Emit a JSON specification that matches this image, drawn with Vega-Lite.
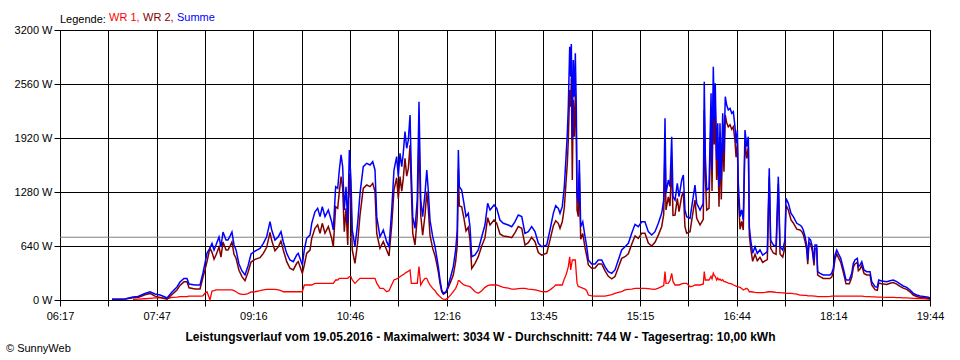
{
  "$schema": "https://vega.github.io/schema/vega-lite/v6.json",
  "width": 870,
  "height": 270,
  "autosize": "none",
  "padding": {"left": 60, "top": 30, "right": 30, "bottom": 60},
  "background": "white",
  "title": {"text": "© SunnyWeb", "orient": "bottom", "anchor": "start", "frame": "group", "offset": 1, "dx": -54, "baseline": "top", "fontSize": 11, "fontWeight": "normal", "font": "Liberation Sans", "color": "black"},
  "data": {"values": [
    {"t":425.2,"wr1":null,"wr2":8,"summe":8},
    {"t":437.3,"wr1":null,"wr2":12,"summe":12},
    {"t":444.7,"wr1":8,"wr2":28,"summe":36},
    {"t":449.4,"wr1":10,"wr2":31,"summe":41},
    {"t":455.8,"wr1":15,"wr2":62,"summe":77},
    {"t":460.5,"wr1":20,"wr2":78,"summe":98},
    {"t":465.1,"wr1":25,"wr2":46,"summe":71},
    {"t":469.8,"wr1":28,"wr2":31,"summe":59},
    {"t":474.4,"wr1":20,"wr2":16,"summe":36},
    {"t":476.3,"wr1":15,"wr2":9,"summe":24},
    {"t":480.9,"wr1":30,"wr2":65,"summe":95},
    {"t":485.5,"wr1":35,"wr2":119,"summe":154},
    {"t":488.3,"wr1":40,"wr2":173,"summe":213},
    {"t":492.0,"wr1":40,"wr2":215,"summe":255},
    {"t":494.8,"wr1":40,"wr2":215,"summe":255},
    {"t":496.7,"wr1":45,"wr2":145,"summe":190},
    {"t":502.2,"wr1":47,"wr2":131,"summe":178},
    {"t":506.9,"wr1":47,"wr2":131,"summe":178},
    {"t":509.6,"wr1":50,"wr2":270,"summe":320},
    {"t":511.5,"wr1":80,"wr2":358,"summe":438},
    {"t":513.4,"wr1":98,"wr2":459,"summe":557},
    {"t":516.1,"wr1":0,"wr2":616,"summe":616},
    {"t":518.0,"wr1":105,"wr2":565,"summe":670},
    {"t":519.9,"wr1":110,"wr2":483,"summe":593},
    {"t":521.7,"wr1":119,"wr2":533,"summe":652},
    {"t":524.5,"wr1":119,"wr2":628,"summe":747},
    {"t":526.3,"wr1":119,"wr2":509,"summe":628},
    {"t":528.2,"wr1":119,"wr2":687,"summe":806},
    {"t":531.0,"wr1":119,"wr2":592,"summe":711},
    {"t":532.8,"wr1":119,"wr2":592,"summe":711},
    {"t":534.7,"wr1":119,"wr2":639,"summe":758},
    {"t":536.5,"wr1":119,"wr2":687,"summe":806},
    {"t":538.4,"wr1":110,"wr2":542,"summe":652},
    {"t":540.3,"wr1":98,"wr2":495,"summe":593},
    {"t":543.0,"wr1":75,"wr2":352,"summe":427},
    {"t":545.8,"wr1":67,"wr2":277,"summe":344},
    {"t":548.6,"wr1":67,"wr2":229,"summe":296},
    {"t":551.4,"wr1":75,"wr2":328,"summe":403},
    {"t":554.2,"wr1":95,"wr2":450,"summe":545},
    {"t":557.9,"wr1":98,"wr2":482,"summe":580},
    {"t":562.5,"wr1":110,"wr2":502,"summe":612},
    {"t":565.6,"wr1":120,"wr2":552,"summe":672},
    {"t":568.7,"wr1":126,"wr2":624,"summe":750},
    {"t":571.8,"wr1":126,"wr2":802,"summe":928},
    {"t":573.4,"wr1":126,"wr2":704,"summe":830},
    {"t":576.4,"wr1":126,"wr2":585,"summe":711},
    {"t":579.5,"wr1":120,"wr2":630,"summe":750},
    {"t":582.0,"wr1":110,"wr2":700,"summe":810},
    {"t":584.1,"wr1":98,"wr2":593,"summe":691},
    {"t":587.3,"wr1":98,"wr2":455,"summe":553},
    {"t":590.3,"wr1":98,"wr2":376,"summe":474},
    {"t":593.4,"wr1":98,"wr2":356,"summe":454},
    {"t":596.6,"wr1":98,"wr2":435,"summe":533},
    {"t":598.0,"wr1":98,"wr2":455,"summe":553},
    {"t":599.6,"wr1":98,"wr2":396,"summe":494},
    {"t":601.8,"wr1":98,"wr2":317,"summe":415},
    {"t":603.6,"wr1":178,"wr2":415,"summe":593},
    {"t":605.8,"wr1":178,"wr2":553,"summe":731},
    {"t":608.9,"wr1":178,"wr2":592,"summe":770},
    {"t":610.5,"wr1":178,"wr2":731,"summe":909},
    {"t":613.5,"wr1":197,"wr2":849,"summe":1046},
    {"t":616.0,"wr1":197,"wr2":890,"summe":1087},
    {"t":618.2,"wr1":197,"wr2":791,"summe":988},
    {"t":620.3,"wr1":197,"wr2":909,"summe":1106},
    {"t":622.8,"wr1":197,"wr2":791,"summe":988},
    {"t":625.9,"wr1":197,"wr2":870,"summe":1067},
    {"t":629.0,"wr1":197,"wr2":731,"summe":928},
    {"t":630.5,"wr1":197,"wr2":633,"summe":830},
    {"t":632.7,"wr1":237,"wr2":1106,"summe":1343},
    {"t":634.6,"wr1":237,"wr2":1087,"summe":1324},
    {"t":636.1,"wr1":257,"wr2":1284,"summe":1541},
    {"t":637.7,"wr1":257,"wr2":1462,"summe":1719},
    {"t":639.2,"wr1":257,"wr2":1323,"summe":1580},
    {"t":640.7,"wr1":257,"wr2":810,"summe":1067},
    {"t":642.3,"wr1":257,"wr2":1086,"summe":1343},
    {"t":643.9,"wr1":257,"wr2":652,"summe":909},
    {"t":645.4,"wr1":277,"wr2":1501,"summe":1778},
    {"t":646.9,"wr1":277,"wr2":1145,"summe":1422},
    {"t":648.1,"wr1":237,"wr2":593,"summe":830},
    {"t":650.6,"wr1":197,"wr2":435,"summe":632},
    {"t":653.1,"wr1":230,"wr2":679,"summe":909},
    {"t":655.3,"wr1":257,"wr2":1007,"summe":1264},
    {"t":658.3,"wr1":257,"wr2":1323,"summe":1580},
    {"t":661.5,"wr1":257,"wr2":1363,"summe":1620},
    {"t":664.6,"wr1":257,"wr2":1343,"summe":1600},
    {"t":667.1,"wr1":257,"wr2":1382,"summe":1639},
    {"t":669.2,"wr1":257,"wr2":1284,"summe":1541},
    {"t":670.8,"wr1":200,"wr2":788,"summe":988},
    {"t":673.8,"wr1":138,"wr2":612,"summe":750},
    {"t":676.9,"wr1":138,"wr2":692,"summe":830},
    {"t":680.0,"wr1":98,"wr2":593,"summe":691},
    {"t":682.2,"wr1":110,"wr2":522,"summe":632},
    {"t":684.7,"wr1":180,"wr2":887,"summe":1067},
    {"t":686.8,"wr1":237,"wr2":1304,"summe":1541},
    {"t":689.3,"wr1":250,"wr2":1449,"summe":1699},
    {"t":690.8,"wr1":260,"wr2":1202,"summe":1462},
    {"t":692.4,"wr1":276,"wr2":1462,"summe":1738},
    {"t":694.0,"wr1":290,"wr2":1290,"summe":1580},
    {"t":695.4,"wr1":300,"wr2":1438,"summe":1738},
    {"t":697.0,"wr1":316,"wr2":1679,"summe":1995},
    {"t":698.6,"wr1":330,"wr2":1468,"summe":1798},
    {"t":700.1,"wr1":340,"wr2":1556,"summe":1896},
    {"t":701.7,"wr1":356,"wr2":1837,"summe":2193},
    {"t":702.9,"wr1":198,"wr2":1303,"summe":1501},
    {"t":704.2,"wr1":198,"wr2":790,"summe":988},
    {"t":706.3,"wr1":198,"wr2":652,"summe":850},
    {"t":708.4,"wr1":198,"wr2":987,"summe":1185},
    {"t":710.0,"wr1":395,"wr2":1955,"summe":2350},
    {"t":711.6,"wr1":178,"wr2":1007,"summe":1185},
    {"t":713.4,"wr1":220,"wr2":768,"summe":988},
    {"t":715.6,"wr1":257,"wr2":1007,"summe":1264},
    {"t":717.2,"wr1":257,"wr2":1284,"summe":1541},
    {"t":718.6,"wr1":217,"wr2":1087,"summe":1304},
    {"t":720.2,"wr1":178,"wr2":770,"summe":948},
    {"t":722.7,"wr1":138,"wr2":612,"summe":750},
    {"t":724.9,"wr1":110,"wr2":522,"summe":632},
    {"t":726.4,"wr1":79,"wr2":434,"summe":513},
    {"t":727.9,"wr1":60,"wr2":335,"summe":395},
    {"t":729.5,"wr1":40,"wr2":197,"summe":237},
    {"t":731.1,"wr1":20,"wr2":99,"summe":119},
    {"t":732.6,"wr1":10,"wr2":69,"summe":79},
    {"t":735.1,"wr1":8,"wr2":90,"summe":98},
    {"t":737.2,"wr1":30,"wr2":148,"summe":178},
    {"t":739.4,"wr1":60,"wr2":216,"summe":276},
    {"t":741.8,"wr1":100,"wr2":295,"summe":395},
    {"t":744.0,"wr1":138,"wr2":455,"summe":593},
    {"t":745.5,"wr1":180,"wr2":650,"summe":830},
    {"t":746.5,"wr1":229,"wr2":1549,"summe":1778},
    {"t":747.4,"wr1":229,"wr2":1114,"summe":1343},
    {"t":749.6,"wr1":200,"wr2":1104,"summe":1304},
    {"t":751.7,"wr1":178,"wr2":968,"summe":1146},
    {"t":753.6,"wr1":170,"wr2":818,"summe":988},
    {"t":755.7,"wr1":165,"wr2":862,"summe":1027},
    {"t":757.3,"wr1":158,"wr2":711,"summe":869},
    {"t":758.9,"wr1":140,"wr2":373,"summe":513},
    {"t":762.0,"wr1":98,"wr2":435,"summe":533},
    {"t":765.0,"wr1":79,"wr2":514,"summe":593},
    {"t":768.2,"wr1":110,"wr2":640,"summe":750},
    {"t":771.2,"wr1":150,"wr2":739,"summe":889},
    {"t":773.7,"wr1":170,"wr2":976,"summe":1146},
    {"t":775.9,"wr1":178,"wr2":889,"summe":1067},
    {"t":779.6,"wr1":178,"wr2":948,"summe":1126},
    {"t":782.1,"wr1":178,"wr2":909,"summe":1087},
    {"t":785.1,"wr1":165,"wr2":783,"summe":948},
    {"t":788.2,"wr1":150,"wr2":759,"summe":909},
    {"t":792.8,"wr1":140,"wr2":749,"summe":889},
    {"t":796.0,"wr1":130,"wr2":739,"summe":869},
    {"t":799.1,"wr1":130,"wr2":798,"summe":928},
    {"t":802.1,"wr1":135,"wr2":872,"summe":1007},
    {"t":805.3,"wr1":138,"wr2":850,"summe":988},
    {"t":808.3,"wr1":138,"wr2":652,"summe":790},
    {"t":811.4,"wr1":130,"wr2":680,"summe":810},
    {"t":814.5,"wr1":125,"wr2":744,"summe":869},
    {"t":817.6,"wr1":119,"wr2":691,"summe":810},
    {"t":820.7,"wr1":110,"wr2":562,"summe":672},
    {"t":823.8,"wr1":100,"wr2":532,"summe":632},
    {"t":828.5,"wr1":98,"wr2":554,"summe":652},
    {"t":831.5,"wr1":120,"wr2":710,"summe":830},
    {"t":834.6,"wr1":150,"wr2":877,"summe":1027},
    {"t":836.8,"wr1":178,"wr2":940,"summe":1118},
    {"t":839.2,"wr1":178,"wr2":909,"summe":1087},
    {"t":840.8,"wr1":178,"wr2":849,"summe":1027},
    {"t":842.9,"wr1":178,"wr2":928,"summe":1106},
    {"t":844.8,"wr1":250,"wr2":1093,"summe":1343},
    {"t":846.4,"wr1":300,"wr2":1399,"summe":1699},
    {"t":847.6,"wr1":350,"wr2":1625,"summe":1975},
    {"t":848.5,"wr1":395,"wr2":1896,"summe":2291},
    {"t":849.8,"wr1":513,"wr2":2489,"summe":3002},
    {"t":850.7,"wr1":356,"wr2":2290,"summe":2646},
    {"t":851.3,"wr1":400,"wr2":2634,"summe":3034},
    {"t":852.2,"wr1":474,"wr2":1422,"summe":1896},
    {"t":853.1,"wr1":474,"wr2":2370,"summe":2844},
    {"t":854.1,"wr1":474,"wr2":1935,"summe":2409},
    {"t":855.0,"wr1":474,"wr2":2449,"summe":2923},
    {"t":855.9,"wr1":316,"wr2":1975,"summe":2291},
    {"t":856.6,"wr1":200,"wr2":1064,"summe":1264},
    {"t":857.8,"wr1":158,"wr2":988,"summe":1146},
    {"t":858.7,"wr1":158,"wr2":1501,"summe":1659},
    {"t":860.0,"wr1":150,"wr2":719,"summe":869},
    {"t":861.9,"wr1":140,"wr2":788,"summe":928},
    {"t":864.0,"wr1":130,"wr2":620,"summe":750},
    {"t":865.6,"wr1":110,"wr2":522,"summe":632},
    {"t":867.1,"wr1":59,"wr2":415,"summe":474},
    {"t":870.2,"wr1":50,"wr2":377,"summe":427},
    {"t":873.3,"wr1":47,"wr2":380,"summe":427},
    {"t":876.3,"wr1":47,"wr2":427,"summe":474},
    {"t":879.5,"wr1":47,"wr2":427,"summe":474},
    {"t":882.5,"wr1":47,"wr2":348,"summe":395},
    {"t":885.6,"wr1":55,"wr2":281,"summe":336},
    {"t":888.8,"wr1":65,"wr2":251,"summe":316},
    {"t":891.8,"wr1":79,"wr2":277,"summe":356},
    {"t":894.9,"wr1":90,"wr2":384,"summe":474},
    {"t":898.0,"wr1":100,"wr2":493,"summe":593},
    {"t":901.1,"wr1":119,"wr2":513,"summe":632},
    {"t":904.2,"wr1":125,"wr2":547,"summe":672},
    {"t":907.3,"wr1":130,"wr2":660,"summe":790},
    {"t":910.4,"wr1":138,"wr2":759,"summe":897},
    {"t":913.4,"wr1":138,"wr2":731,"summe":869},
    {"t":916.6,"wr1":138,"wr2":790,"summe":928},
    {"t":919.6,"wr1":138,"wr2":790,"summe":928},
    {"t":922.7,"wr1":135,"wr2":675,"summe":810},
    {"t":925.9,"wr1":130,"wr2":640,"summe":770},
    {"t":928.9,"wr1":126,"wr2":684,"summe":810},
    {"t":932.0,"wr1":140,"wr2":769,"summe":909},
    {"t":935.1,"wr1":158,"wr2":869,"summe":1027},
    {"t":937.0,"wr1":170,"wr2":1015,"summe":1185},
    {"t":938.2,"wr1":336,"wr2":1817,"summe":2153},
    {"t":939.1,"wr1":197,"wr2":1067,"summe":1264},
    {"t":941.3,"wr1":200,"wr2":1222,"summe":1422},
    {"t":942.8,"wr1":230,"wr2":1113,"summe":1343},
    {"t":944.4,"wr1":316,"wr2":1619,"summe":1935},
    {"t":945.6,"wr1":220,"wr2":1004,"summe":1224},
    {"t":947.5,"wr1":178,"wr2":1007,"summe":1185},
    {"t":949.6,"wr1":178,"wr2":1205,"summe":1383},
    {"t":951.2,"wr1":178,"wr2":1046,"summe":1224},
    {"t":953.7,"wr1":190,"wr2":1232,"summe":1422},
    {"t":955.2,"wr1":197,"wr2":1284,"summe":1481},
    {"t":956.7,"wr1":197,"wr2":870,"summe":1067},
    {"t":958.3,"wr1":197,"wr2":791,"summe":988},
    {"t":961.4,"wr1":158,"wr2":810,"summe":968},
    {"t":963.9,"wr1":165,"wr2":1020,"summe":1185},
    {"t":966.0,"wr1":178,"wr2":1185,"summe":1363},
    {"t":967.6,"wr1":178,"wr2":968,"summe":1146},
    {"t":970.7,"wr1":178,"wr2":889,"summe":1067},
    {"t":973.7,"wr1":190,"wr2":956,"summe":1146},
    {"t":974.6,"wr1":336,"wr2":2251,"summe":2587},
    {"t":975.6,"wr1":237,"wr2":1462,"summe":1699},
    {"t":976.9,"wr1":237,"wr2":1067,"summe":1304},
    {"t":979.0,"wr1":237,"wr2":1087,"summe":1324},
    {"t":980.9,"wr1":280,"wr2":2169,"summe":2449},
    {"t":981.8,"wr1":250,"wr2":1291,"summe":1541},
    {"t":983.0,"wr1":316,"wr2":2449,"summe":2765},
    {"t":983.9,"wr1":290,"wr2":1843,"summe":2133},
    {"t":984.8,"wr1":280,"wr2":2288,"summe":2568},
    {"t":986.1,"wr1":237,"wr2":1422,"summe":1659},
    {"t":987.1,"wr1":260,"wr2":1834,"summe":2094},
    {"t":988.3,"wr1":237,"wr2":1106,"summe":1343},
    {"t":989.2,"wr1":250,"wr2":1844,"summe":2094},
    {"t":990.4,"wr1":230,"wr2":1192,"summe":1422},
    {"t":991.7,"wr1":240,"wr2":1972,"summe":2212},
    {"t":992.9,"wr1":217,"wr2":1521,"summe":1738},
    {"t":994.1,"wr1":217,"wr2":2192,"summe":2409},
    {"t":995.4,"wr1":210,"wr2":2101,"summe":2311},
    {"t":996.9,"wr1":200,"wr2":2052,"summe":2252},
    {"t":998.5,"wr1":195,"wr2":2077,"summe":2272},
    {"t":1000.1,"wr1":190,"wr2":2022,"summe":2212},
    {"t":1001.6,"wr1":178,"wr2":2054,"summe":2232},
    {"t":1003.1,"wr1":170,"wr2":1884,"summe":2054},
    {"t":1004.1,"wr1":165,"wr2":1692,"summe":1857},
    {"t":1005.3,"wr1":158,"wr2":1857,"summe":2015},
    {"t":1006.2,"wr1":155,"wr2":1228,"summe":1383},
    {"t":1007.8,"wr1":150,"wr2":838,"summe":988},
    {"t":1009.3,"wr1":135,"wr2":932,"summe":1067},
    {"t":1010.8,"wr1":119,"wr2":829,"summe":948},
    {"t":1012.4,"wr1":130,"wr2":1885,"summe":2015},
    {"t":1014.0,"wr1":138,"wr2":1679,"summe":1817},
    {"t":1015.5,"wr1":120,"wr2":1815,"summe":1935},
    {"t":1016.4,"wr1":98,"wr2":771,"summe":869},
    {"t":1017.7,"wr1":98,"wr2":613,"summe":711},
    {"t":1019.5,"wr1":95,"wr2":458,"summe":553},
    {"t":1021.7,"wr1":90,"wr2":542,"summe":632},
    {"t":1023.8,"wr1":87,"wr2":466,"summe":553},
    {"t":1026.3,"wr1":87,"wr2":506,"summe":593},
    {"t":1028.8,"wr1":87,"wr2":446,"summe":533},
    {"t":1031.0,"wr1":90,"wr2":463,"summe":553},
    {"t":1033.1,"wr1":95,"wr2":478,"summe":573},
    {"t":1034.9,"wr1":98,"wr2":1463,"summe":1561},
    {"t":1036.2,"wr1":98,"wr2":613,"summe":711},
    {"t":1038.7,"wr1":95,"wr2":557,"summe":652},
    {"t":1041.2,"wr1":90,"wr2":542,"summe":632},
    {"t":1043.3,"wr1":87,"wr2":1375,"summe":1462},
    {"t":1044.9,"wr1":87,"wr2":545,"summe":632},
    {"t":1047.4,"wr1":85,"wr2":508,"summe":593},
    {"t":1049.5,"wr1":82,"wr2":629,"summe":711},
    {"t":1050.4,"wr1":80,"wr2":1125,"summe":1205},
    {"t":1052.6,"wr1":79,"wr2":1067,"summe":1146},
    {"t":1055.1,"wr1":79,"wr2":948,"summe":1027},
    {"t":1057.2,"wr1":75,"wr2":913,"summe":988},
    {"t":1060.4,"wr1":70,"wr2":839,"summe":909},
    {"t":1063.4,"wr1":59,"wr2":830,"summe":889},
    {"t":1065.0,"wr1":57,"wr2":812,"summe":869},
    {"t":1066.5,"wr1":55,"wr2":775,"summe":830},
    {"t":1068.1,"wr1":55,"wr2":695,"summe":750},
    {"t":1069.6,"wr1":55,"wr2":597,"summe":652},
    {"t":1070.6,"wr1":50,"wr2":424,"summe":474},
    {"t":1071.8,"wr1":50,"wr2":681,"summe":731},
    {"t":1073.3,"wr1":50,"wr2":661,"summe":711},
    {"t":1074.8,"wr1":48,"wr2":584,"summe":632},
    {"t":1076.4,"wr1":45,"wr2":409,"summe":454},
    {"t":1077.3,"wr1":45,"wr2":607,"summe":652},
    {"t":1078.9,"wr1":42,"wr2":610,"summe":652},
    {"t":1079.8,"wr1":40,"wr2":296,"summe":336},
    {"t":1082.0,"wr1":40,"wr2":276,"summe":316},
    {"t":1085.0,"wr1":40,"wr2":256,"summe":296},
    {"t":1088.2,"wr1":40,"wr2":256,"summe":296},
    {"t":1091.2,"wr1":42,"wr2":254,"summe":296},
    {"t":1092.8,"wr1":45,"wr2":271,"summe":316},
    {"t":1094.3,"wr1":47,"wr2":328,"summe":375},
    {"t":1095.9,"wr1":47,"wr2":486,"summe":533},
    {"t":1097.5,"wr1":47,"wr2":546,"summe":593},
    {"t":1098.9,"wr1":47,"wr2":506,"summe":553},
    {"t":1101.2,"wr1":47,"wr2":447,"summe":494},
    {"t":1103.6,"wr1":47,"wr2":328,"summe":375},
    {"t":1106.1,"wr1":45,"wr2":192,"summe":237},
    {"t":1109.2,"wr1":45,"wr2":192,"summe":237},
    {"t":1111.4,"wr1":47,"wr2":269,"summe":316},
    {"t":1112.9,"wr1":47,"wr2":388,"summe":435},
    {"t":1114.4,"wr1":47,"wr2":427,"summe":474},
    {"t":1116.6,"wr1":47,"wr2":447,"summe":494},
    {"t":1117.5,"wr1":47,"wr2":348,"summe":395},
    {"t":1119.1,"wr1":47,"wr2":368,"summe":415},
    {"t":1120.7,"wr1":45,"wr2":409,"summe":454},
    {"t":1122.8,"wr1":42,"wr2":314,"summe":356},
    {"t":1125.3,"wr1":40,"wr2":296,"summe":336},
    {"t":1128.4,"wr1":40,"wr2":296,"summe":336},
    {"t":1129.9,"wr1":38,"wr2":179,"summe":217},
    {"t":1133.0,"wr1":36,"wr2":122,"summe":158},
    {"t":1135.1,"wr1":35,"wr2":115,"summe":150},
    {"t":1136.4,"wr1":35,"wr2":202,"summe":237},
    {"t":1139.2,"wr1":33,"wr2":192,"summe":225},
    {"t":1143.8,"wr1":32,"wr2":185,"summe":217},
    {"t":1146.9,"wr1":30,"wr2":199,"summe":229},
    {"t":1150.0,"wr1":30,"wr2":207,"summe":237},
    {"t":1153.1,"wr1":28,"wr2":189,"summe":217},
    {"t":1156.2,"wr1":28,"wr2":162,"summe":190},
    {"t":1159.2,"wr1":26,"wr2":140,"summe":166},
    {"t":1162.4,"wr1":24,"wr2":126,"summe":150},
    {"t":1165.5,"wr1":22,"wr2":97,"summe":119},
    {"t":1168.5,"wr1":20,"wr2":59,"summe":79},
    {"t":1171.7,"wr1":18,"wr2":41,"summe":59},
    {"t":1174.7,"wr1":16,"wr2":31,"summe":47},
    {"t":1179.4,"wr1":14,"wr2":26,"summe":40},
    {"t":1182.4,"wr1":12,"wr2":20,"summe":32},
    {"t":1184.0,"wr1":12,"wr2":12,"summe":24}
  ]},
  "encoding": {
    "x": {
      "field": "t", "type": "quantitative",
      "scale": {"domain": [377, 1184], "nice": false, "zero": false},
      "axis": {
        "values": [377, 421.833, 466.667, 511.5, 556.333, 601.167, 646, 690.833, 735.667, 780.5, 825.333, 870.167, 915, 959.833, 1004.667, 1049.5, 1094.333, 1139.167, 1184],
        "labelExpr": "['06:17','','07:47','','09:16','','10:46','','12:16','','13:45','','15:15','','16:44','','18:14','','19:44'][round((datum.value-377)/44.8333)]",
        "labelPadding": 4,
        "labelFlush": false,
        "labelOverlap": false,
        "title": "Leistungsverlauf vom 19.05.2016 - Maximalwert: 3034 W - Durchschnitt: 744 W - Tagesertrag: 10,00 kWh",
        "titleFontWeight": "bold",
        "titleFontSize": 12,
        "titleFont": "Liberation Sans",
        "titleColor": "black",
        "titleX": 420,
        "titleY": 40,
        "titleAlign": "center",
        "titleBaseline": "alphabetic"
      }
    }
  },
  "layer": [
    {
      "data": {"values": [{"durchschnitt": 744}]},
      "mark": {"type": "rule", "color": "#808080", "strokeWidth": 1},
      "encoding": {"x": null, "y": {"field": "durchschnitt", "type": "quantitative"}}
    },
    {
      "mark": {"type": "line", "strokeWidth": 1.3, "interpolate": "linear"},
      "encoding": {
        "y": {"field": "wr1", "type": "quantitative"},
        "color": {"datum": "WR 1"}
      }
    },
    {
      "mark": {"type": "line", "strokeWidth": 1.5, "interpolate": "linear"},
      "encoding": {
        "y": {"field": "wr2", "type": "quantitative"},
        "color": {"datum": "WR 2"}
      }
    },
    {
      "mark": {"type": "line", "strokeWidth": 1.5, "interpolate": "linear"},
      "encoding": {
        "y": {
          "field": "summe", "type": "quantitative",
          "scale": {"domain": [0, 3200], "nice": false},
          "axis": {"values": [0, 640, 1280, 1920, 2560, 3200], "labelExpr": "datum.value + ' W'", "title": null, "labelPadding": 2}
        },
        "color": {
          "datum": "Summe",
          "scale": {"domain": ["WR 1", "WR 2", "Summe"], "range": ["#ff0000", "#800000", "#0000ff"]},
          "legend": {
            "orient": "none", "legendX": 0, "legendY": -24,
            "direction": "horizontal",
            "title": "Legende:", "titleOrient": "left", "titleFontWeight": "normal", "titleFontSize": 11, "titleFont": "Liberation Sans", "titleColor": "black", "titlePadding": 3, "titleBaseline": "top",
            "labelFontSize": 11, "labelFont": "Liberation Sans", "labelBaseline": "top",
            "labelExpr": "datum.label == 'Summe' ? 'Summe' : datum.label + ','",
            "labelColor": {"expr": "datum.value == 'WR 1' ? '#ff0000' : datum.value == 'WR 2' ? '#800000' : '#0000ff'"},
            "symbolSize": 0, "symbolStrokeWidth": 0, "symbolOpacity": 0,
            "labelOffset": -11, "columnPadding": 3, "padding": 0, "offset": 0
          }
        }
      }
    }
  ],
  "resolve": {"scale": {"y": "shared"}},
  "config": {
    "font": "Liberation Sans",
    "view": {"stroke": "black", "strokeWidth": 1},
    "axis": {
      "grid": true, "gridColor": "black", "gridOpacity": 1, "gridWidth": 1,
      "domainColor": "black", "domainWidth": 1,
      "tickColor": "black", "tickSize": 6, "tickWidth": 1,
      "labelFontSize": 11, "labelColor": "black", "labelFont": "Liberation Sans"
    }
  }
}
